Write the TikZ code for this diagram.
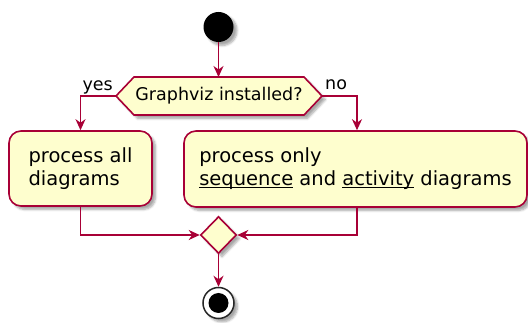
\documentclass[tikz,border=0pt]{standalone}
\usepackage{fontspec}
\setmainfont{DejaVu Sans}
\usetikzlibrary{arrows.meta,shapes.geometric,shadows.blur,calc}
\definecolor{pfill}{HTML}{FEFECE}
\definecolor{pline}{HTML}{A80036}
\newsavebox\ulbox
\newcommand{\myul}[1]{\sbox\ulbox{#1}\mbox{\usebox\ulbox\llap{\rule[-2.6pt]{\wd\ulbox}{1.1pt}}}}
\begin{document}
\begin{tikzpicture}[x=1pt,y=-1pt,
  shad/.style={blur shadow={shadow xshift=3.5pt,shadow yshift=-3.5pt,shadow blur steps=6,shadow opacity=35}},
  act/.style={draw=pline,fill=pfill,line width=1.6pt,rounded corners=12pt,align=left,
    font=\fontsize{19.5}{23}\selectfont,inner sep=0pt,shad},
  hexa/.style={draw=pline,fill=pfill,line width=1.6pt,shad},
  flow/.style={draw=pline,line width=1.5pt,-{Stealth[length=11pt,width=10pt,inset=3.5pt]}},
  lbl/.style={font=\fontsize{17.5}{20}\selectfont,inner sep=0pt}]
\useasboundingbox (0,0) rectangle (528,323);
% start
\node[circle,fill=black,minimum size=30pt,inner sep=0pt,shad] (start) at (218.5,27) {};
% decision hexagon
\coordinate (decL) at (116,96);
\coordinate (decTL) at (134,77);
\coordinate (decT) at (218.5,77);
\coordinate (decTR) at (304,77);
\coordinate (decR) at (322,96);
\coordinate (decBR) at (304,115);
\coordinate (decBL) at (134,115);
\path[hexa] (decL) -- (decTL) -- (decTR) -- (decR) -- (decBR) -- (decBL) -- cycle;
\node[lbl] (dec) at (219,96) {Graphviz installed?};
\node[lbl,anchor=base east] (yes) at (113,91) {yes};
\node[lbl,anchor=base west] (no) at (325,90) {no};
% activities
\node[act,minimum width=143pt,minimum height=75pt] (pa) at (80.5,168.5) {process all\\diagrams};
\node[act,minimum width=343pt,minimum height=76pt] (po) at (355.5,169) {process only\\\myul{sequence} and \myul{activity} diagrams};
% merge
\node[diamond,draw=pline,fill=pfill,line width=1.6pt,minimum width=36pt,minimum height=37pt,inner sep=0pt,shad] (merge) at (218.5,235) {};
% stop
\node[circle,draw=black!85,fill=white,line width=1.5pt,minimum size=31pt,inner sep=0pt,shad] (stop) at (218.5,303) {};
\node[circle,fill=black,minimum size=20pt,inner sep=0pt] (stopin) at (stop) {};
% connectors
\draw[flow] (start) -- (decT);
\draw[flow] (decL) -| (pa.north);
\draw[flow] (decR) -| ([xshift=1.5pt]po.north);
\draw[flow] (pa.south) |- (merge.west);
\draw[flow] ([xshift=1.5pt]po.south) |- (merge.east);
\draw[flow] (merge.south) -- (stop.north);
\end{tikzpicture}
\end{document}
